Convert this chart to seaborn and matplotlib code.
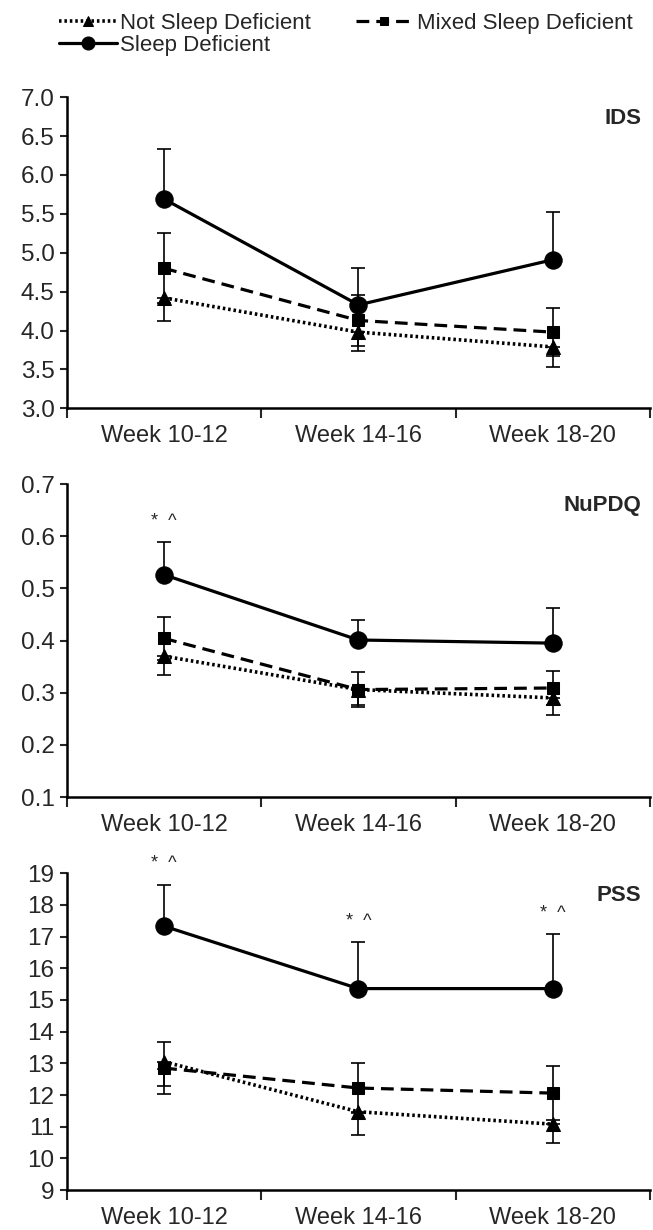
import numpy as np
import pandas as pd
import matplotlib
matplotlib.use("Agg")
import matplotlib.pyplot as plt
import seaborn as sns

weeks = ["Week 10-12", "Week 14-16", "Week 18-20"]
groups = ["Not Sleep Deficient", "Mixed Sleep Deficient", "Sleep Deficient"]

# IDS
ids_not = [4.42, 3.98, 3.79]
ids_not_lo = [0.30, 0.24, 0.26]
ids_mixed = [4.80, 4.13, 3.98]
ids_mixed_err = [0.45, 0.33, 0.31]
ids_sleep = [5.69, 4.33, 4.91]
ids_sleep_hi = [0.64, 0.48, 0.62]

# NuPDQ
nu_not = [0.370, 0.306, 0.290]
nu_not_lo = [0.036, 0.030, 0.032]
nu_mixed = [0.404, 0.306, 0.309]
nu_mixed_err = [0.041, 0.033, 0.033]
nu_sleep = [0.526, 0.401, 0.395]
nu_sleep_hi = [0.063, 0.038, 0.068]

# PSS
pss_not = [13.05, 11.47, 11.08]
pss_not_lo = [0.76, 0.73, 0.60]
pss_mixed = [12.85, 12.22, 12.06]
pss_mixed_err = [0.83, 0.80, 0.85]
pss_sleep = [17.33, 15.36, 15.36]
pss_sleep_hi = [1.31, 1.46, 1.72]

panels = [
    dict(title="IDS", ylim=(3.0, 7.0), yticks=np.arange(3.0, 7.01, 0.5), fmt="{:.1f}",
         not_=ids_not, not_lo=ids_not_lo, mixed=ids_mixed, mixed_err=ids_mixed_err,
         sleep=ids_sleep, sleep_hi=ids_sleep_hi, sig=[]),
    dict(title="NuPDQ", ylim=(0.1, 0.7), yticks=np.arange(0.1, 0.701, 0.1), fmt="{:.1f}",
         not_=nu_not, not_lo=nu_not_lo, mixed=nu_mixed, mixed_err=nu_mixed_err,
         sleep=nu_sleep, sleep_hi=nu_sleep_hi, sig=[0]),
    dict(title="PSS", ylim=(9, 19), yticks=np.arange(9, 19.01, 1), fmt="{:.0f}",
         not_=pss_not, not_lo=pss_not_lo, mixed=pss_mixed, mixed_err=pss_mixed_err,
         sleep=pss_sleep, sleep_hi=pss_sleep_hi, sig=[0, 1, 2]),
]

sns.set_style("ticks")
plt.rcParams['font.family'] = ['Liberation Sans', 'DejaVu Sans']

fig = plt.figure(figsize=(6.53, 12.30), dpi=100)
rects = [
    [0.1026, 0.668, 0.8925, 0.253],
    [0.1026, 0.352, 0.8925, 0.2545],
    [0.1026, 0.0325, 0.8925, 0.2575],
]

handles = {}
for p, r in zip(panels, rects):
    ax = fig.add_axes(r)
    zero = [0, 0, 0]
    # error bars
    ax.errorbar(weeks, p["not_"], yerr=[p["not_lo"], zero], fmt="none", ecolor="k",
                elinewidth=1.2, capsize=5, capthick=1.2, zorder=1.5)
    ax.errorbar(weeks, p["mixed"], yerr=[p["mixed_err"], p["mixed_err"]], fmt="none", ecolor="k",
                elinewidth=1.2, capsize=5, capthick=1.2, zorder=1.5)
    ax.errorbar(weeks, p["sleep"], yerr=[zero, p["sleep_hi"]], fmt="none", ecolor="k",
                elinewidth=1.2, capsize=5, capthick=1.2, zorder=1.5)
    # lines
    sns.lineplot(x=weeks, y=p["not_"], ax=ax, color="k", marker="^", markersize=10,
                 linestyle=(0, (0.7, 0.8)), linewidth=2.6, markeredgecolor="k", legend=False)
    sns.lineplot(x=weeks, y=p["mixed"], ax=ax, color="k", marker="s", markersize=8,
                 linestyle=(0, (4, 2.2)), linewidth=2.3, markeredgecolor="k", legend=False)
    sns.lineplot(x=weeks, y=p["sleep"], ax=ax, color="k", marker="o", markersize=12.5,
                 linestyle="-", linewidth=2.3, markeredgecolor="k", legend=False)
    lines = ax.get_lines()
    plotted = [l for l in lines if l.get_marker() in ("^", "s", "o")]
    for l in plotted:
        handles[l.get_marker()] = l

    ax.set_xlim(-0.5, 2.5)
    ax.set_ylim(*p["ylim"])
    ax.set_yticks(p["yticks"])
    ax.set_yticklabels([p["fmt"].format(v) for v in p["yticks"]], fontsize=17.5)
    ax.set_xticks([0, 1, 2])
    ax.set_xticklabels(weeks, fontsize=17)
    ax.tick_params(axis="x", length=0, pad=12)
    ax.tick_params(axis="y", length=5, width=1.5, pad=4, direction="out")
    # category boundary ticks
    ax.set_xticks([-0.5, 0.5, 1.5, 2.5], minor=True)
    ax.tick_params(axis="x", which="minor", length=7, width=1.5, direction="out")
    for s in ["top", "right"]:
        ax.spines[s].set_visible(False)
    for s in ["left", "bottom"]:
        ax.spines[s].set_linewidth(1.8)
        ax.spines[s].set_color("k")
    ax.set_xlabel("")
    ax.set_ylabel("")
    ax.text(0.985, 0.93, p["title"], transform=ax.transAxes, ha="right", va="center",
            fontsize=16, fontweight="bold")
    for i in p["sig"]:
        ax.annotate("*  ^", xy=(i, p["sleep"][i] + p["sleep_hi"][i]), xytext=(0, 15),
                    textcoords="offset points", ha="center", va="center", fontsize=13,
                    annotation_clip=False)

leg = fig.legend(handles=[handles["^"], handles["o"], handles["s"]],
                 labels=[groups[0], groups[2], groups[1]],
                 ncol=2, loc="upper left", bbox_to_anchor=(0.06, 1.006), frameon=False,
                 fontsize=16, handlelength=2.6, handletextpad=0.15, columnspacing=2.0,
                 labelspacing=0.05, markerscale=0.75)

fig.savefig("out.png", dpi=100)
